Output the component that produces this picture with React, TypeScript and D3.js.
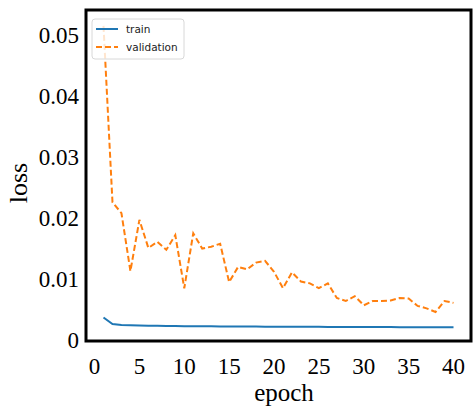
import React from 'react';
import * as d3 from 'd3';

// loss per epoch
const epochs = d3.range(1, 41);
const trainLoss = [
  0.00370, 0.00262, 0.00248, 0.00242, 0.00238, 0.00235, 0.00233, 0.00231, 0.00229, 0.00228,
  0.00227, 0.00226, 0.00225, 0.00224, 0.00223, 0.00222, 0.00222, 0.00221, 0.00220, 0.00220,
  0.00219, 0.00218, 0.00218, 0.00217, 0.00217, 0.00216, 0.00216, 0.00215, 0.00215, 0.00214,
  0.00214, 0.00213, 0.00213, 0.00212, 0.00212, 0.00211, 0.00211, 0.00210, 0.00210, 0.00210,
];
const valLoss = [
  0.0515, 0.0226, 0.0208, 0.0113, 0.0197, 0.0151, 0.0161, 0.0148, 0.0172, 0.0085,
  0.0175, 0.0150, 0.0153, 0.0158, 0.0095, 0.0120, 0.0116, 0.0127, 0.0130, 0.0112,
  0.0085, 0.0111, 0.0096, 0.0093, 0.0085, 0.0093, 0.0069, 0.0064, 0.0072, 0.0057,
  0.0064, 0.0064, 0.0065, 0.0069, 0.0068, 0.0056, 0.0052, 0.0046, 0.0064, 0.0061,
];
const xTicks = [0, 5, 10, 15, 20, 25, 30, 35, 40];
const yTicks = [0, 0.01, 0.02, 0.03, 0.04, 0.05];
const legendItems = [
  { label: 'train', color: '#1f77b4', dash: '' },
  { label: 'validation', color: '#ff7f0e', dash: '6,3' },
];

const width = 473;
const height = 409;
const frame = { left: 86, right: 471, top: 10, bottom: 341 };
const serif = 'Liberation Serif';
const sans = 'DejaVu Sans';

const App = () => {
  const x = d3.scaleLinear().domain([-0.95, 41.95]).range([frame.left, frame.right]);
  const y = d3.scaleLinear().domain([-0.00015, 0.0541]).range([frame.bottom, frame.top]);

  const line = d3.line<number>()
    .x((d, i) => x(epochs[i]))
    .y(d => y(d));

  return (
    <svg width={width} height={height} style={{ position: 'absolute', left: 0, top: 0 }}>
      <rect width={width} height={height} fill="#fff" />
      <defs>
        <clipPath id="plot">
          <rect x={frame.left} y={frame.top} width={frame.right - frame.left} height={frame.bottom - frame.top} />
        </clipPath>
      </defs>

      <g clipPath="url(#plot)">
        <path d={line(trainLoss) || ''} fill="none" stroke="#1f77b4" strokeWidth={2} />
        <path d={line(valLoss) || ''} fill="none" stroke="#ff7f0e" strokeWidth={2} strokeDasharray="6,3" />
      </g>

      {/* legend */}
      <g transform={`translate(${frame.left + 6},${frame.top + 9})`}>
        <rect width={92} height={40} rx={3} fill="#fff" fillOpacity={0.8} stroke="#d8d8d8" />
        {legendItems.map((d, i) => (
          <g key={d.label} transform={`translate(0,${10 + i * 18})`}>
            <line x1={4} x2={26} y1={0} y2={0} stroke={d.color} strokeWidth={2} strokeDasharray={d.dash} />
            <text x={34} y={0} dy="0.35em" fontSize={10.5} fontFamily={sans} fill="#222">
              {d.label}
            </text>
          </g>
        ))}
      </g>

      <rect x={frame.left} y={frame.top} width={frame.right - frame.left} height={frame.bottom - frame.top}
        fill="none" stroke="#000" strokeWidth={3} />

      {yTicks.map(t => (
        <text key={t} x={frame.left - 7} y={y(t)} dy="0.33em" textAnchor="end" fontSize={23} fontFamily={serif}>
          {t === 0 ? '0' : d3.format('.2f')(t)}
        </text>
      ))}
      {xTicks.map(t => (
        <text key={t} x={x(t)} y={366} dy="0.33em" textAnchor="middle" fontSize={23} fontFamily={serif}>
          {t}
        </text>
      ))}

      <text x={284} y={401} textAnchor="middle" fontSize={25} fontFamily={serif}>epoch</text>
      <text transform={`translate(27,183) rotate(-90)`} textAnchor="middle" fontSize={26}
        fontFamily={serif}>loss</text>
    </svg>
  );
};

export default App;
